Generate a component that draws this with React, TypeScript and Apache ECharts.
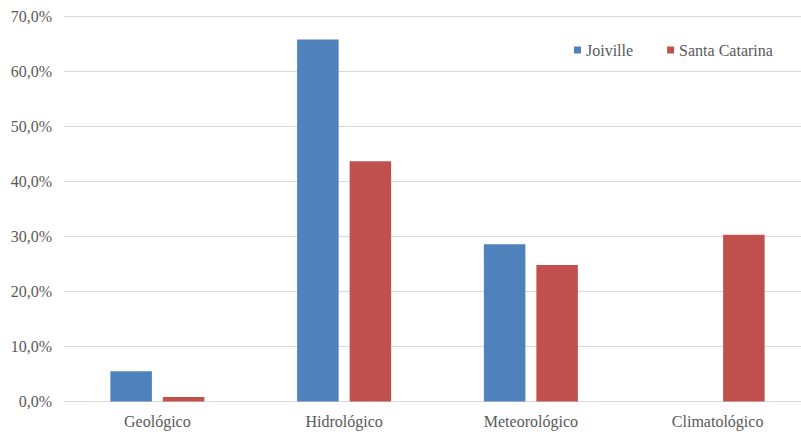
import React, { useEffect, useRef } from "react";
import * as echarts from "echarts";

// Share of disaster occurrences by type (%)
const categories = ["Geológico", "Hidrológico", "Meteorológico", "Climatológico"];
const joinvilleValues = [5.5, 65.8, 28.6, 0];
const santaCatarinaValues = [0.8, 43.7, 24.8, 30.3];
const seriesNames = ["Joiville", "Santa Catarina"];

const FONT = "Liberation Serif";
const TEXT_COLOR = "#595959";
const GRID_COLOR = "#D9D9D9";

const fmtPct = (v: number) => v.toFixed(1).replace(".", ",") + "%";

export default function App() {
  const ref = useRef<HTMLDivElement>(null);

  useEffect(() => {
    if (!ref.current) return;
    const chart = echarts.init(ref.current, null, { renderer: "svg" });
    chart.setOption({
      animation: false,
      backgroundColor: "#FFFFFF",
      textStyle: { fontFamily: FONT },
      // plot area runs a little past the visible right edge
      grid: { left: 64, right: 0, top: 16.5, bottom: 30.5, containLabel: false },
      legend: {
        data: seriesNames,
        left: 569,
        top: 37,
        itemWidth: 7,
        itemHeight: 7,
        itemGap: 34,
        icon: "rect",
        textStyle: { fontFamily: FONT, fontSize: 16, color: TEXT_COLOR },
      },
      xAxis: {
        type: "category",
        data: categories,
        axisLine: { show: true, lineStyle: { color: GRID_COLOR, width: 1 } },
        axisTick: { show: false },
        axisLabel: { fontFamily: FONT, fontSize: 16, color: TEXT_COLOR, margin: 12 },
        splitLine: { show: false },
      },
      yAxis: {
        type: "value",
        min: 0,
        max: 70,
        interval: 10,
        axisLine: { show: false },
        axisTick: { show: false },
        axisLabel: {
          fontFamily: FONT,
          fontSize: 16,
          color: TEXT_COLOR,
          margin: 12,
          formatter: (v: number) => fmtPct(v),
        },
        splitLine: { show: true, lineStyle: { color: GRID_COLOR, width: 1 } },
      },
      series: [
        {
          name: seriesNames[0],
          type: "bar",
          data: joinvilleValues,
          barWidth: 41.5,
          barGap: "26.5%",
          itemStyle: { color: "#4F81BD" },
        },
        {
          name: seriesNames[1],
          type: "bar",
          data: santaCatarinaValues,
          barWidth: 41.5,
          barGap: "26.5%",
          itemStyle: { color: "#C0504D" },
        },
      ],
    });
    return () => chart.dispose();
  }, []);

  return (
    <div
      style={{
        position: "absolute",
        left: 0,
        top: 0,
        width: 801,
        height: 432,
        overflow: "hidden",
      }}
    >
      <div ref={ref} style={{ width: 811, height: 432 }} />
    </div>
  );
}
